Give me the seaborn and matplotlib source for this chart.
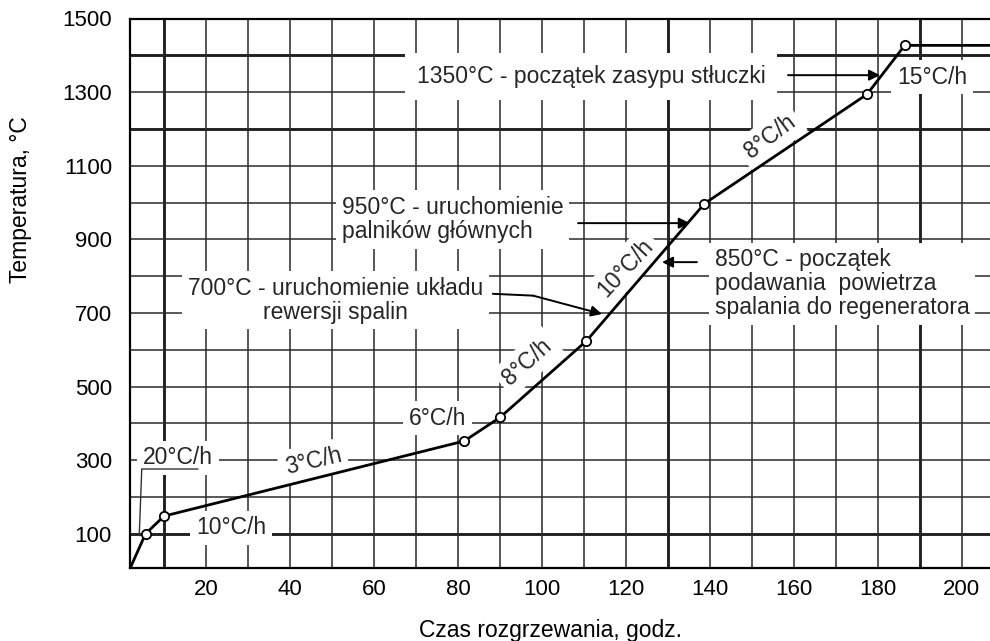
import matplotlib
matplotlib.use("Agg")
import matplotlib.pyplot as plt
import seaborn as sns
import pandas as pd
import numpy as np

# ---- data ----
time_h = [2.0, 5.6, 10.0, 81.5, 90.0, 110.6, 138.7, 177.4, 186.4, 207.0]
temp_c = [8, 100, 148, 352, 416, 624, 997, 1294, 1427, 1427]
is_marked = [False, True, True, True, True, True, True, True, True, False]

x_ticks = [20, 40, 60, 80, 100, 120, 140, 160, 180, 200]
y_ticks = [100, 300, 500, 700, 900, 1100, 1300, 1500]
x_grid = list(range(10, 210, 10))
y_grid = list(range(100, 1600, 100))
thick_x = [10, 130, 190]
thick_y = [100, 1200, 1400]

df = pd.DataFrame({"time": time_h, "temp": temp_c, "marked": is_marked})

sns.set_theme(style="white")
plt.rcParams['font.family'] = ['Liberation Sans', 'DejaVu Sans']

fig = plt.figure(figsize=(9.9, 6.41), dpi=100)
ax = fig.add_axes([130 / 990, 1 - 568 / 641, 860 / 990, (568 - 18.5) / 641])

ax.set_xlim(1.9, 206.7)
ax.set_ylim(7, 1500)

# grid
ax.set_xticks(x_ticks)
ax.set_yticks(y_ticks)
ax.set_xticks(x_grid, minor=True)
ax.set_yticks(y_grid, minor=True)
ax.grid(which='both', color='#2a2a2a', linewidth=1.1, zorder=0)
for xv in thick_x:
    ax.axvline(xv, color='black', linewidth=1.9, zorder=0.5)
for yv in thick_y:
    ax.axhline(yv, color='black', linewidth=1.9, zorder=0.5)
ax.set_axisbelow(True)

ax.tick_params(axis='both', which='both', length=0, labelsize=16, colors='black')
ax.tick_params(axis='y', pad=13)
ax.tick_params(axis='x', pad=8)

for side in ['left', 'top', 'bottom']:
    ax.spines[side].set_color('black')
    ax.spines[side].set_linewidth(1.6)
ax.spines['right'].set_visible(False)

# curve
sns.lineplot(data=df, x="time", y="temp", color='black', linewidth=2.0,
             ax=ax, zorder=5, sort=False)
sns.scatterplot(data=df[df["marked"]], x="time", y="temp", marker='o', s=45,
                facecolor='white', edgecolor='black', linewidth=1.3,
                ax=ax, zorder=6)

ax.set_xlabel("Czas rozgrzewania, godz.", fontsize=16.5, color='black')
ax.set_ylabel("Temperatura, °C", fontsize=16.5, color='black')
ax.xaxis.set_label_coords(0.489, -0.092)
ax.yaxis.set_label_coords(-0.114, 0.67)

FS = 16.5
box = dict(boxstyle='square,pad=0.25', fc='white', ec='none')
arrow = dict(arrowstyle='-|>', color='black', lw=1.4, mutation_scale=16,
             shrinkA=0, shrinkB=0)

# slope labels
ax.text(5.0, 306, "20°C/h", fontsize=FS, ha='left', va='center', bbox=box, zorder=4)
ax.plot([18.1, 4.7, 4.1], [276, 276, 95], color='#333333', lw=1.0, zorder=4.5)
ax.text(45.5, 297, "3°C/h", fontsize=FS, ha='center', va='center', rotation=13,
        bbox=box, zorder=4)
ax.text(26.0, 116, "10°C/h", fontsize=FS, ha='center', va='center', bbox=box, zorder=4)
ax.text(75.2, 414, "6°C/h", fontsize=FS, ha='center', va='center', bbox=box, zorder=4)
ax.text(96.5, 567, "8°C/h", fontsize=FS, ha='center', va='center', rotation=42,
        bbox=box, zorder=4)
ax.text(119.8, 822, "10°C/h", fontsize=FS, ha='center', va='center', rotation=47,
        bbox=box, zorder=4)
ax.text(154.3, 1178, "8°C/h", fontsize=FS, ha='center', va='center', rotation=37,
        bbox=box, zorder=4)
ax.text(184.6, 1341, "15°C/h", fontsize=FS, ha='left', va='center', bbox=box, zorder=4)

# event annotations
ax.text(70.2, 1343, "1350°C - początek zasypu stłuczki", fontsize=FS, ha='left',
        va='center', bbox=dict(boxstyle='square,pad=0.52', fc='white', ec='none'),
        zorder=4)
ax.annotate('', xy=(180.5, 1346), xytext=(158.6, 1346), arrowprops=arrow, zorder=7)

ax.text(52.4, 954, "950°C - uruchomienie\npalników głównych", fontsize=FS,
        ha='left', va='center', linespacing=1.05, bbox=box, zorder=4)
ax.annotate('', xy=(135.2, 944), xytext=(108.6, 944), arrowprops=arrow, zorder=7)

ax.text(50.8, 735, "700°C - uruchomienie układu\nrewersji spalin", fontsize=FS,
        ha='center', va='center', multialignment='center', linespacing=1.05,
        bbox=box, zorder=4)
ax.plot([88.3, 97.9], [752, 747], color='black', lw=1.4, zorder=7)
ax.annotate('', xy=(114.3, 697), xytext=(97.9, 747), arrowprops=arrow, zorder=7)

ax.text(141.2, 779, "850°C - początek\npodawania  powietrza\nspalania do regeneratora",
        fontsize=FS, ha='left', va='center', linespacing=1.05, bbox=box, zorder=4)
ax.annotate('', xy=(128.6, 838), xytext=(136.9, 838), arrowprops=arrow, zorder=7)

fig.savefig("out.png", dpi=100, facecolor='white')
